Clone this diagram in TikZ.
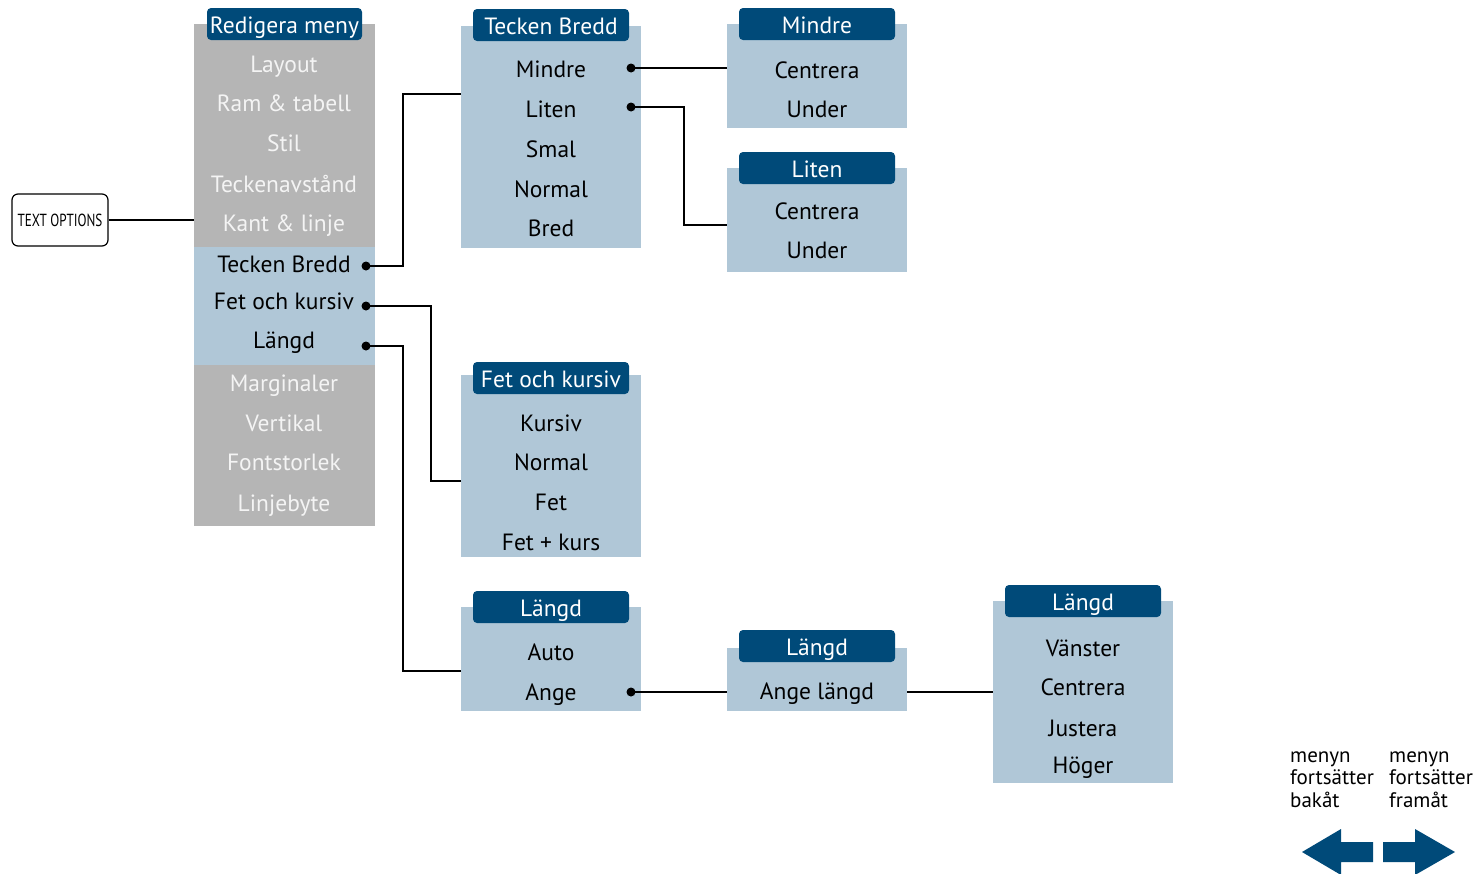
\documentclass[tikz,border=0pt]{standalone}
\usepackage{fontspec}
\setmainfont{PT Sans}
\newfontfamily\narrowfont[FakeStretch=0.75]{PT Sans}
\definecolor{hdrblue}{HTML}{004A79}
\definecolor{lblue}{HTML}{B0C7D7}
\definecolor{lgray}{HTML}{B5B5B5}
\definecolor{gtext}{HTML}{F4F4F4}
\begin{document}
\begin{tikzpicture}[x=1pt,y=-1pt,
  panel/.style={fill=#1, draw=none, anchor=north west, inner sep=0pt, outer sep=0pt},
  hdr/.style={fill=hdrblue, rounded corners=4pt, text=white, minimum width=156pt, minimum height=32pt, inner sep=0pt, text height=19pt, text depth=0pt, font=\fontsize{23.5}{25}\selectfont},
  item/.style={anchor=base, inner sep=0pt, text=black, font=\fontsize{23.5}{25}\selectfont},
  gitem/.style={item, text=gtext},
  dotnode/.style={circle, fill=black, inner sep=0pt, minimum size=9pt},
  conn/.style={line width=1.8pt},
  note/.style={anchor=base west, align=left, inner sep=0pt, font=\fontsize{21}{22.5}\selectfont},
  arrowfill/.style={fill=hdrblue}
]
\useasboundingbox (0,0) rectangle (1474,873);

% TEXT OPTIONS
\node[draw, line width=1.2pt, rounded corners=6pt, minimum width=96pt, minimum height=52pt, inner sep=0pt, font=\narrowfont\fontsize{17.5}{18}\selectfont] (to) at (60,220) {TEXT OPTIONS};

% main menu
\node[panel=lgray, minimum width=181pt, minimum height=502pt] (menu) at (194,24) {};
\node[panel=lblue, minimum width=181pt, minimum height=118pt] (menublue) at (194,247) {};
\node[hdr, minimum width=155pt] (menuh) at (284.5,24) {Redigera meny};
\node[gitem] (m1) at (284,72) {Layout};
\node[gitem] (m2) at (284,111) {Ram \& tabell};
\node[gitem] (m3) at (284,151) {Stil};
\node[gitem] (m4) at (284,192) {Teckenavstånd};
\node[gitem] (m5) at (284,231) {Kant \& linje};
\node[item] (m6) at (284,272) {Tecken Bredd};
\node[item] (m7) at (284,309) {Fet och kursiv};
\node[item] (m8) at (284,348) {Längd};
\node[gitem] (m9) at (284,391) {Marginaler};
\node[gitem] (m10) at (284,431) {Vertikal};
\node[gitem] (m11) at (284,470) {Fontstorlek};
\node[gitem] (m12) at (284,511) {Linjebyte};
\node[dotnode] (d6) at (366,266) {};
\node[dotnode] (d7) at (366,306) {};
\node[dotnode] (d8) at (366,346) {};

% Tecken Bredd panel
\node[panel=lblue, minimum width=180pt, minimum height=222pt] (tb) at (461,26) {};
\node[hdr] (tbh) at (551,25) {Tecken Bredd};
\node[item] (tb1) at (551,77) {Mindre};
\node[item] (tb2) at (551,117) {Liten};
\node[item] (tb3) at (551,157) {Smal};
\node[item] (tb4) at (551,197) {Normal};
\node[item] (tb5) at (551,236) {Bred};
\node[dotnode] (dtb1) at (631,68) {};
\node[dotnode] (dtb2) at (631,107) {};

% Mindre panel
\node[panel=lblue, minimum width=180pt, minimum height=104pt] (mi) at (727,24) {};
\node[hdr] (mih) at (817,24) {Mindre};
\node[item] (mi1) at (817,78) {Centrera};
\node[item] (mi2) at (817,117) {Under};

% Liten panel
\node[panel=lblue, minimum width=180pt, minimum height=104pt] (li) at (727,168) {};
\node[hdr] (lih) at (817,168) {Liten};
\node[item] (li1) at (817,219) {Centrera};
\node[item] (li2) at (817,258) {Under};

% Fet och kursiv panel
\node[panel=lblue, minimum width=180pt, minimum height=182pt] (fk) at (461,375) {};
\node[hdr] (fkh) at (551,378) {Fet och kursiv};
\node[item] (fk1) at (551,431) {Kursiv};
\node[item] (fk2) at (551,470) {Normal};
\node[item] (fk3) at (551,510) {Fet};
\node[item] (fk4) at (551,550) {Fet + kurs};

% Längd panel 1
\node[panel=lblue, minimum width=180pt, minimum height=104pt] (la) at (461,607) {};
\node[hdr] (lah) at (551,607) {Längd};
\node[item] (la1) at (551,660) {Auto};
\node[item] (la2) at (551,700) {Ange};
\node[dotnode] (dla2) at (631,692) {};

% Längd panel 2
\node[panel=lblue, minimum width=180pt, minimum height=63pt] (lb) at (727,648) {};
\node[hdr] (lbh) at (817,646) {Längd};
\node[item] (lb1) at (817,699) {Ange längd};

% Längd panel 3
\node[panel=lblue, minimum width=180pt, minimum height=182pt] (lc) at (993,601) {};
\node[hdr] (lch) at (1083,601) {Längd};
\node[item] (lc1) at (1083,656) {Vänster};
\node[item] (lc2) at (1083,695) {Centrera};
\node[item] (lc3) at (1083,736) {Justera};
\node[item] (lc4) at (1083,773) {Höger};

% corner coordinates
\coordinate (k1) at (403,94);
\coordinate (k2) at (431,481);
\coordinate (k3) at (403,671);
\coordinate (k4) at (684,225);

% connectors
\draw[conn] (to.east) -- (menu.west |- to.east);
\draw[conn] (d6.center) -| (k1) -- (tb.west |- k1);
\draw[conn] (d7.center) -| (k2) -- (fk.west |- k2);
\draw[conn] (d8.center) -| (k3) -- (la.west |- k3);
\draw[conn] (dtb1.center) -- (mi.west |- dtb1);
\draw[conn] (dtb2.center) -| (k4) -- (li.west |- k4);
\draw[conn] (dla2.center) -- (lb.west |- dla2);
\draw[conn] (lb.east |- dla2) -- (lc.west |- dla2);

% legend
\node[note] (nb) at (1290,807) {menyn\\fortsätter\\bakåt};
\node[note] (nf) at (1389,807) {menyn\\fortsätter\\framåt};
\fill[arrowfill] (1302,852) -- (1341,829) -- (1341,842) -- (1373,842) -- (1373,862) -- (1341,862) -- (1341,875) -- cycle;
\fill[arrowfill] (1455,852) -- (1415,829) -- (1415,842) -- (1383,842) -- (1383,862) -- (1415,862) -- (1415,875) -- cycle;
\end{tikzpicture}
\end{document}
